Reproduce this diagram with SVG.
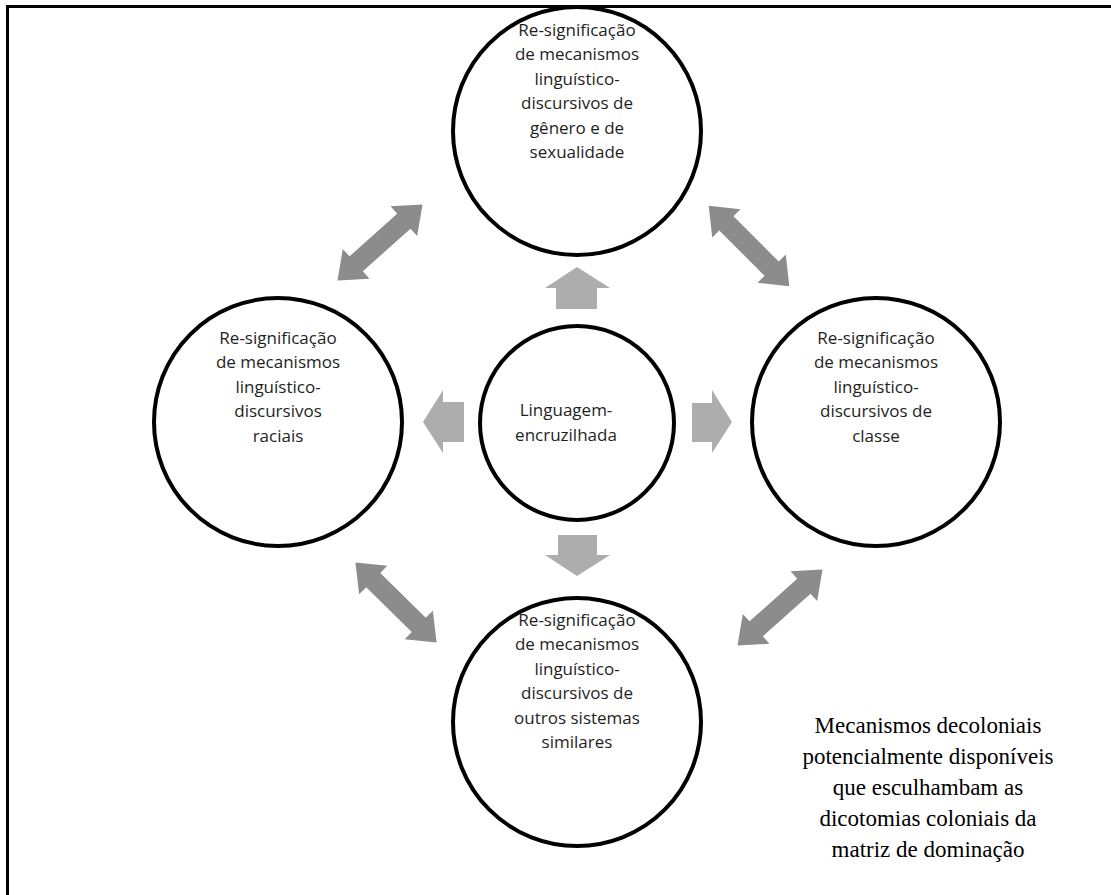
<svg xmlns="http://www.w3.org/2000/svg" width="1111" height="895" viewBox="0 0 1111 895">
  <style>
    .node circle { fill: #ffffff; stroke: #000000; stroke-width: 4; }
    .node text { font-family: "Open Sans", "Noto Sans", sans-serif; font-size: 17px; fill: #1e1e1e; text-anchor: middle; }
    .dbl { fill: #8c8c8c; }
    .blk { fill: #adadad; }
    .note { font-family: "Liberation Serif", "Times New Roman", serif; font-size: 23px; fill: #000000; text-anchor: middle; }
  </style>
  <defs>
    <path id="dblArrow" d="M -57,0 L -32,-20 L -32,-10 L 32,-10 L 32,-20 L 57,0 L 32,20 L 32,10 L -32,10 L -32,20 Z"/>
  </defs>

  <rect x="0" y="0" width="1111" height="895" fill="#ffffff"/>
  <!-- frame (open at right and bottom) -->
  <path d="M 7.5,895 V 6.5 H 1111" fill="none" stroke="#000000" stroke-width="3"/>

  <g id="connectors">
    <!-- two-way links between outer nodes -->
    <use href="#dblArrow" class="dbl" transform="translate(380,242.5) rotate(-41.8)"/>
    <use href="#dblArrow" class="dbl" transform="translate(749,246) rotate(45)"/>
    <use href="#dblArrow" class="dbl" transform="translate(396,602.5) rotate(44.6)"/>
    <use href="#dblArrow" class="dbl" transform="translate(780,607.5) rotate(-41.8)"/>
    <!-- block arrows from the centre -->
    <polygon class="blk" points="577,267 610,288 597,288 597,309 556,309 556,288 545,288"/>
    <polygon class="blk" points="423,422 443,390 443,402 464,402 464,442 443,442 443,453"/>
    <polygon class="blk" points="732,422 712,390 712,403 692,403 692,442 712,442 712,453"/>
    <polygon class="blk" points="577,576 610,555 597,555 597,535 558,535 558,555 545,555"/>
  </g>

  <g id="node-top" class="node">
    <circle cx="577" cy="131" r="124"/>
    <text x="577" y="36">Re-significação</text>
    <text x="577" y="60">de mecanismos</text>
    <text x="577" y="85">linguístico-</text>
    <text x="577" y="109">discursivos de</text>
    <text x="577" y="134">gênero e de</text>
    <text x="577" y="158">sexualidade</text>
  </g>

  <g id="node-left" class="node">
    <circle cx="278" cy="422" r="124"/>
    <text x="278" y="344">Re-significação</text>
    <text x="278" y="368">de mecanismos</text>
    <text x="278" y="393">linguístico-</text>
    <text x="278" y="417">discursivos</text>
    <text x="278" y="442">raciais</text>
  </g>

  <g id="node-center" class="node">
    <circle cx="577" cy="423" r="97"/>
    <text x="566" y="416">Linguagem-</text>
    <text x="566" y="441">encruzilhada</text>
  </g>

  <g id="node-right" class="node">
    <circle cx="876" cy="422" r="124"/>
    <text x="876" y="344">Re-significação</text>
    <text x="876" y="368">de mecanismos</text>
    <text x="876" y="393">linguístico-</text>
    <text x="876" y="417">discursivos de</text>
    <text x="876" y="442">classe</text>
  </g>

  <g id="node-bottom" class="node">
    <circle cx="577" cy="722" r="124"/>
    <text x="577" y="626">Re-significação</text>
    <text x="577" y="650">de mecanismos</text>
    <text x="577" y="675">linguístico-</text>
    <text x="577" y="699">discursivos de</text>
    <text x="577" y="724">outros sistemas</text>
    <text x="577" y="748">similares</text>
  </g>

  <g id="caption">
    <text class="note" x="928" y="733">Mecanismos decoloniais</text>
    <text class="note" x="928" y="764">potencialmente disponíveis</text>
    <text class="note" x="928" y="795">que esculhambam as</text>
    <text class="note" x="928" y="826">dicotomias coloniais da</text>
    <text class="note" x="928" y="857">matriz de dominação</text>
  </g>
</svg>
